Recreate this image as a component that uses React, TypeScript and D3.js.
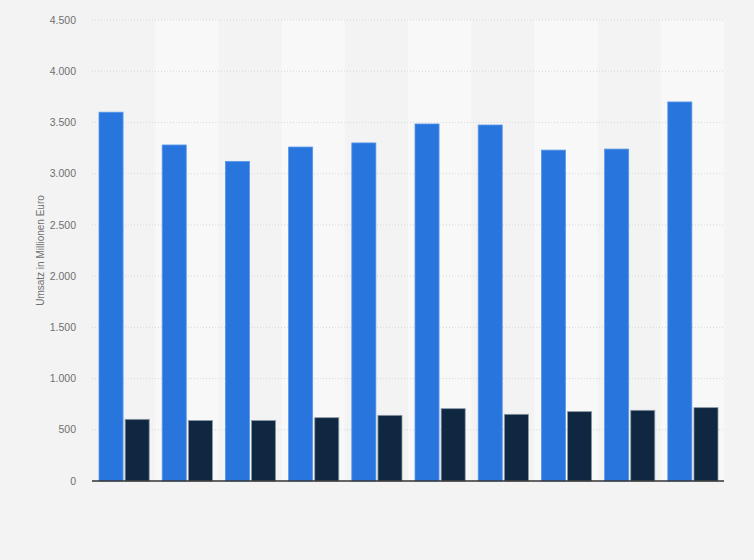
import * as d3 from "d3";
import * as React from "react";

const categories = ["1", "2", "3", "4", "5", "6", "7", "8", "9", "10"];
const seriesA = [3600, 3280, 3120, 3260, 3300, 3485, 3475, 3230, 3240, 3700];
const seriesB = [602, 590, 590, 618, 641, 706, 651, 677, 690, 716];
const yTicks = [0, 500, 1000, 1500, 2000, 2500, 3000, 3500, 4000, 4500];

const W = 754;
const H = 560;
const margin = { top: 20, right: 30, bottom: 79, left: 92 };

const fmt = (v: number) => d3.format(",")(v).replace(/,/g, ".");

export default function App() {
  const w = W - margin.left - margin.right;
  const h = H - margin.top - margin.bottom;

  const x = d3.scaleBand().domain(categories).range([0, w]).paddingInner(0).paddingOuter(0);
  const inner = d3
    .scaleBand()
    .domain(["a", "b"])
    .range([7, x.bandwidth() - 6])
    .paddingInner(0.08);
  const y = d3.scaleLinear().domain([0, 4500]).range([h, 0]);

  return (
    <svg
      width={W}
      height={H}
      style={{ position: "absolute", left: 0, top: 0, background: "#f3f3f3" }}
    >
      <rect width={W} height={H} fill="#f3f3f3" />
      <g transform={`translate(${margin.left},${margin.top})`}>
        {categories.map((c, i) =>
          i % 2 === 1 ? (
            <rect key={c} x={x(c)} y={0} width={x.bandwidth()} height={h} fill="#f8f8f8" />
          ) : null
        )}
        {yTicks.map((t) => (
          <g key={t}>
            {t > 0 && (
              <line
                x1={0}
                x2={w}
                y1={y(t)}
                y2={y(t)}
                stroke="#d8d8d8"
                strokeDasharray="1,2"
              />
            )}
            <text
              x={-16}
              y={y(t)}
              dy="0.35em"
              textAnchor="end"
              fontFamily="Liberation Sans, Arial, sans-serif"
              fontSize={10.5}
              fill="#707070"
            >
              {fmt(t)}
            </text>
          </g>
        ))}
        {categories.map((c, i) => (
          <g key={c} transform={`translate(${x(c)},0)`}>
            <rect
              x={inner("a")}
              y={y(seriesA[i])}
              width={inner.bandwidth()}
              height={h - y(seriesA[i])}
              fill="#2876dd"
              stroke="#5a97e6"
              strokeWidth={0.8}
            />
            <rect
              x={inner("b")}
              y={y(seriesB[i])}
              width={inner.bandwidth()}
              height={h - y(seriesB[i])}
              fill="#0f2741"
              stroke="#8b98a6"
              strokeWidth={0.8}
            />
          </g>
        ))}
        <line x1={0} x2={w} y1={h} y2={h} stroke="#333" strokeWidth={1.5} />
        <text
          transform={`translate(${-48},${h / 2}) rotate(-90)`}
          textAnchor="middle"
          fontFamily="Liberation Sans, Arial, sans-serif"
          fontSize={10}
          fill="#707070"
        >
          Umsatz in Millionen Euro
        </text>
      </g>
    </svg>
  );
}
